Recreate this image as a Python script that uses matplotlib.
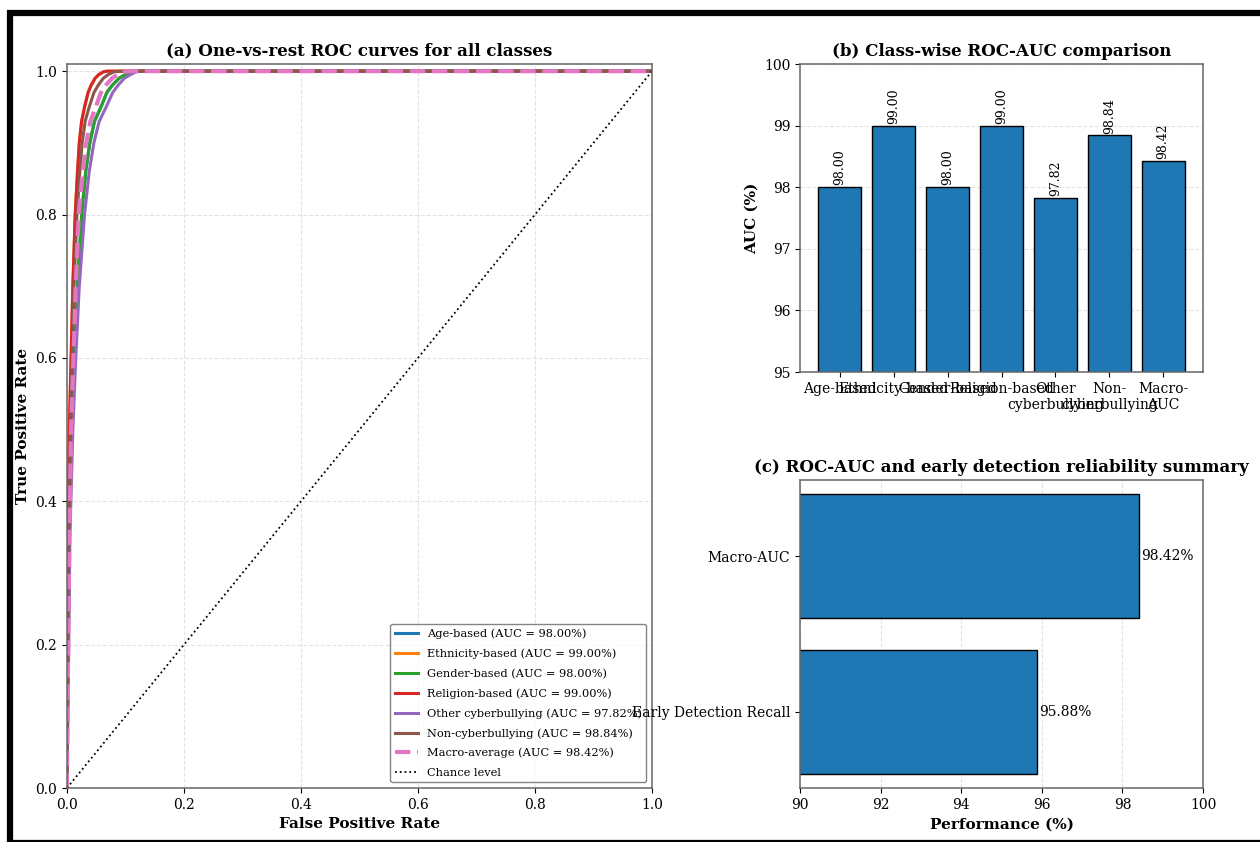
import numpy as np
import matplotlib
matplotlib.use("Agg")
import matplotlib.pyplot as plt
from matplotlib.patches import Rectangle

# ROC curves (fpr per tpr level, per class)
tpr_levels = [0.0, 0.2, 0.35, 0.5, 0.6, 0.7, 0.8, 0.86, 0.9, 0.93, 0.95, 0.97, 0.98,
              0.99, 0.995, 0.999, 1.0, 1.0]
fpr_age = [0, 0.002, 0.004, 0.008, 0.013, 0.018, 0.025, 0.032, 0.039, 0.047, 0.058, 0.068,
           0.077, 0.089, 0.099, 0.110, 0.119, 1.0]
fpr_ethnicity = [0, 0.001, 0.002, 0.004, 0.007, 0.010, 0.014, 0.018, 0.021, 0.025, 0.030, 0.036,
                 0.041, 0.048, 0.054, 0.062, 0.068, 1.0]
fpr_gender = [0, 0.002, 0.004, 0.008, 0.013, 0.018, 0.025, 0.032, 0.039, 0.047, 0.058, 0.068,
              0.077, 0.089, 0.099, 0.110, 0.119, 1.0]
fpr_religion = [0, 0.001, 0.002, 0.004, 0.007, 0.010, 0.014, 0.018, 0.021, 0.025, 0.030, 0.036,
                0.041, 0.048, 0.054, 0.062, 0.068, 1.0]
fpr_other = [0, 0.003, 0.005, 0.010, 0.015, 0.021, 0.030, 0.038, 0.046, 0.055, 0.067, 0.078,
             0.087, 0.098, 0.108, 0.118, 0.125, 1.0]
fpr_noncyber = [0, 0.001, 0.003, 0.006, 0.009, 0.012, 0.017, 0.022, 0.026, 0.031, 0.038, 0.046,
                0.053, 0.062, 0.070, 0.080, 0.090, 1.0]
fpr_macro = [0, 0.002, 0.004, 0.007, 0.011, 0.015, 0.020, 0.027, 0.033, 0.040, 0.049, 0.058,
             0.066, 0.077, 0.086, 0.098, 0.108, 1.0]

class_names = ['Age-based', 'Ethnicity-based', 'Gender-based', 'Religion-based',
               'Other cyberbullying', 'Non-cyberbullying']
class_auc = [98.00, 99.00, 98.00, 99.00, 97.82, 98.84]
macro_auc = 98.42

bar_labels = ['Age-based', 'Ethnicity-based', 'Gender-based', 'Religion-based',
              'Other\ncyberbullying', 'Non-\ncyberbullying', 'Macro-\nAUC']
bar_values = class_auc + [macro_auc]

summary_labels = ['Early Detection Recall', 'Macro-AUC']
summary_values = [95.88, 98.42]


def main():
    plt.rcParams['font.family'] = ['DejaVu Serif']
    plt.rcParams['font.size'] = 10
    plt.rcParams['axes.edgecolor'] = '0.4'
    plt.rcParams['axes.linewidth'] = 1.1

    fig = plt.figure(figsize=(12.6, 8.42), dpi=100)
    gs = fig.add_gridspec(2, 2, left=67/1260, right=1203/1260, bottom=54/842, top=778/842,
                          width_ratios=[585, 403], wspace=148/494, hspace=108/308)
    ax1 = fig.add_subplot(gs[:, 0])
    ax2 = fig.add_subplot(gs[0, 1])
    ax3 = fig.add_subplot(gs[1, 1])

    # (a) ROC curves
    curves = [fpr_age, fpr_ethnicity, fpr_gender, fpr_religion, fpr_other, fpr_noncyber]
    colors = ['#1f77b4', '#ff7f0e', '#2ca02c', '#d62728', '#9467bd', '#8c564b']
    for fpr, name, auc, c in zip(curves, class_names, class_auc, colors):
        ax1.plot(fpr, tpr_levels, color=c, lw=2.2, label=f'{name} (AUC = {auc:.2f}%)')
    ax1.plot(fpr_macro, tpr_levels, color='#e377c2', lw=3, ls='--',
             label=f'Macro-average (AUC = {macro_auc:.2f}%)')
    ax1.plot([0, 1], [0, 1], 'k:', lw=1.3, label='Chance level')
    ax1.set_xlim(0, 1)
    ax1.set_ylim(0, 1.01)
    ax1.set_xlabel('False Positive Rate', fontweight='bold', fontsize=11)
    ax1.set_ylabel('True Positive Rate', fontweight='bold', fontsize=11)
    ax1.set_title('(a) One-vs-rest ROC curves for all classes', fontweight='bold', fontsize=12)
    ax1.grid(True, ls='--', alpha=0.35)
    ax1.legend(loc='lower right', fontsize=8.2, edgecolor='0.4', labelspacing=0.82)

    # (b) class-wise AUC bars
    x = np.arange(len(bar_labels))
    bars = ax2.bar(x, bar_values, color='#1f77b4', edgecolor='black', lw=1)
    for b, v in zip(bars, bar_values):
        ax2.text(b.get_x() + b.get_width() / 2, v + 0.03, f'{v:.2f}', rotation=90,
                 ha='center', va='bottom', fontsize=9)
    ax2.set_xticks(x)
    ax2.set_xticklabels(bar_labels, fontsize=10)
    ax2.set_ylim(95, 100)
    ax2.set_ylabel('AUC (%)', fontweight='bold', fontsize=11)
    ax2.set_title('(b) Class-wise ROC-AUC comparison', fontweight='bold', fontsize=12)
    ax2.grid(True, axis='y', ls='--', alpha=0.35)
    ax2.set_axisbelow(True)

    # (c) summary horizontal bars
    y = np.arange(len(summary_labels))
    hb = ax3.barh(y, summary_values, color='#1f77b4', edgecolor='black', lw=1)
    for b, v in zip(hb, summary_values):
        ax3.text(v + 0.05, b.get_y() + b.get_height() / 2, f'{v:.2f}%',
                 va='center', ha='left', fontsize=10)
    ax3.set_yticks(y)
    ax3.set_yticklabels(summary_labels, fontsize=10)
    ax3.set_xlim(90, 100)
    ax3.set_xlabel('Performance (%)', fontweight='bold', fontsize=11)
    ax3.set_title('(c) ROC-AUC and early detection reliability summary', fontweight='bold', fontsize=12)
    ax3.grid(True, axis='x', ls='--', alpha=0.35)
    ax3.set_axisbelow(True)

    # black frame around the figure (cropped at right and bottom)
    fig.patches.append(Rectangle((10/1260, -1/842), 1265/1260, 830/842, transform=fig.transFigure,
                                 fill=False, edgecolor='black', lw=4.5, clip_on=False))

    fig.savefig('out.png', dpi=100, facecolor='white')
    plt.close(fig)


if __name__ == '__main__':
    main()
